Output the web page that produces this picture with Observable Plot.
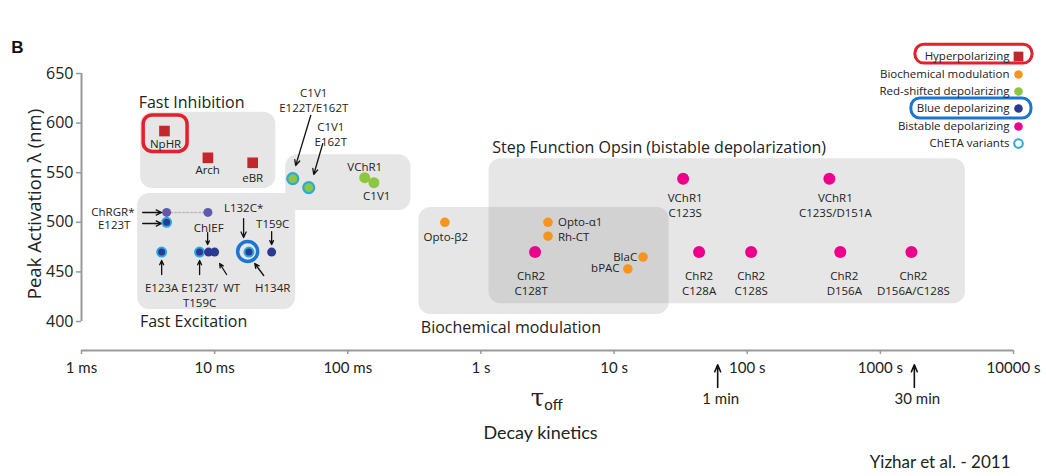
<!DOCTYPE html>
<html>
<head>
<meta charset="utf-8">
<script src="https://cdn.jsdelivr.net/npm/d3@7"></script>
<script src="https://cdn.jsdelivr.net/npm/@observablehq/plot@0.6"></script>
<style>
  html, body { margin: 0; padding: 0; background: #fff; }
  #chart svg { display: block; }
</style>
</head>
<body>
<div id="chart"></div>
<script>
// ---------- DATA ----------
const opsinNames = ["NpHR","Arch","eBR",
  "C1V1 E122T/E162T","C1V1 E162T","VChR1","C1V1",
  "ChRGR*","ChRGR* (2)","E123T","E123A","E123T/T159C","ChIEF","WT","L132C*/H134R","T159C",
  "Opto-β2","Opto-α1","Rh-CT","BlaC","bPAC",
  "ChR2 C128T","VChR1 C123S","VChR1 C123S/D151A","ChR2 C128A","ChR2 C128S","ChR2 D156A","ChR2 D156A/C128S"];
const tauOff = [0.0042, 0.0089, 0.0193,
  0.0386, 0.0509, 0.134, 0.157,
  0.00436, 0.0089, 0.00436, 0.0040, 0.0077, 0.0090, 0.0100, 0.0181, 0.0268,
  0.536, 3.19, 3.19, 16.5, 12.7,
  2.55, 33, 414, 43.5, 107, 500, 1710];
const peakNm = [592, 565, 560,
  544, 535, 545, 540,
  510, 510, 500, 470, 470, 470, 470, 470, 470,
  500, 500, 486, 465, 453,
  470, 544, 544, 470, 470, 470, 470];
const groups = ["hyper","hyper","hyper",
  "red","red","red","red",
  "chrgr","chrgr","blue","blue","blue","blue","blue","blue","blue",
  "bio","bio","bio","bio","bio",
  "bistable","bistable","bistable","bistable","bistable","bistable","bistable"];
const chetaRing = [0,0,0, 1,1,0,0, 0,0,1,1,1,0,0,1,0, 0,0,0,0,0, 0,0,0,0,0,0,0];

const legendLabels = ["Hyperpolarizing","Biochemical modulation","Red-shifted depolarizing","Blue depolarizing","Bistable depolarizing","ChETA variants"];
const yTicks = [400, 450, 500, 550, 600, 650];
const xTicks = [0.001, 0.01, 0.1, 1, 10, 100, 1000, 10000];
const xTickLabels = ["1 ms","10 ms","100 ms","1 s","10 s","100 s","1000 s","10000 s"];

// shaded regions [x1, x2, y1, y2] in data units
const regionInhibition = [0.00278, 0.0288, 534, 611];
const regionExcitation = [0.00264, 0.0406, 412, 529];
const regionRedShifted = [0.0342, 0.298, 512, 568];
const regionBiochem = [0.342, 25.9, 407, 515];
const regionSFO = [1.15, 4355, 418, 564];

// labels: text, x, y
const centerLabels = [
  ["NpHR", 0.00428, 579.4], ["Arch", 0.00886, 553.2], ["eBR", 0.0193, 545.2],
  ["C1V1\nE122T/E162T", 0.0555, 623.3], ["C1V1\nE162T", 0.0745, 589],
  ["VChR1", 0.134, 556.2], ["C1V1", 0.165, 527],
  ["L132C*", 0.0165, 514.9], ["ChIEF", 0.00902, 494.8], ["T159C", 0.0273, 498.8],
  ["E123A", 0.0040, 434.3], ["E123T/\nT159C", 0.00771, 426.7], ["WT", 0.01343, 434.3], ["H134R", 0.0273, 434.3],
  ["Opto-β2", 0.545, 485.7],
  ["ChR2\nC128T", 2.38, 438.8], ["VChR1\nC123S", 34.2, 517.9], ["VChR1\nC123S/D151A", 459, 517.9],
  ["ChR2\nC128A", 43.5, 438.8], ["ChR2\nC128S", 107, 438.8], ["ChR2\nD156A", 536, 438.8], ["ChR2\nD156A/C128S", 1770, 438.8]
];
const leftLabels = [["Opto-α1", 3.79, 499.8], ["Rh-CT", 3.79, 484.7]];
const rightLabels = [["ChRGR*", 0.0025, 509.9], ["E123T", 0.00233, 496.8], ["BlaC", 14.9, 464.5], ["bPAC", 11.0, 453.4]];
const groupTitles = [
  ["Fast Inhibition", 0.00671, 620.8], ["Fast Excitation", 0.00695, 400],
  ["Step Function Opsin (bistable depolarization)", 21.8, 575.4],
  ["Biochemical modulation", 1.68, 394]
];
// arrows x1, y1, x2, y2
const arrows = [
  [0.00288, 509.9, 0.0040, 509.9], [0.00288, 498.8, 0.0040, 498.8],
  [0.0527, 607.7, 0.0406, 557.2], [0.0649, 579.4, 0.0555, 548.2],
  [0.0165, 503.8, 0.0165, 484.7], [0.0268, 490.7, 0.0268, 477.6], [0.00886, 489.7, 0.00886, 477.6],
  [0.0040, 447.4, 0.0040, 461.5], [0.00771, 447.4, 0.00771, 461.5],
  [0.0123, 447.4, 0.0109, 458.5], [0.02336, 446.4, 0.0200, 458.5]
];
const timeMarks = [["1 min", 60], ["30 min", 1800]];
const yTitle = "Peak Activation λ (nm)";
const panelLabel = "B";
const xTitle = "Decay kinetics";
const source = "Yizhar et al. - 2011";

// ---------- BUILD ----------
const opsins = opsinNames.map((name, i) => ({name, tau: tauOff[i], nm: peakNm[i], group: groups[i], cheta: !!chetaRing[i]}));
const colors = {hyper: "#c1272d", red: "#8dc63f", blue: "#2b3990", chrgr: "#5f5aab", bio: "#f7941d", bistable: "#ec008c"};
const legendColors = ["#c1272d", "#f7941d", "#8dc63f", "#2b3990", "#ec008c", "none"];
const cyan = "#27aae1";
const FONT = "'Open Sans', 'Noto Sans', sans-serif";
const FONT2 = "Lato, sans-serif";
const yBottom = 370.8;
const box = {x1: d => d[0], x2: d => d[1], y1: d => d[2], y2: d => d[3]};
const mid = {textAnchor: "middle", lineAnchor: "middle"};

const byGroup = (g) => opsins.filter(d => d.group === g);
const legendDy = [-17, 1, 18, 35, 53, 70];
const legendMarks = legendLabels.flatMap((t, i) => [
  Plot.text([t], {frameAnchor: "top-right", dx: -4, dy: legendDy[i], text: d => d, fontSize: 11.5, fill: "#222", textAnchor: "end", lineAnchor: "middle"}),
  Plot.dot([t], {frameAnchor: "top-right", dx: 5, dy: legendDy[i],
    symbol: i === 0 ? "square" : "circle", r: i === 0 ? 5.5 : 4.3,
    fill: legendColors[i], stroke: i === 5 ? cyan : "none", strokeWidth: 2})
]);

const chart = Plot.plot({
  width: 1046, height: 476,
  marginLeft: 81, marginRight: 33, marginTop: 73, marginBottom: 126,
  x: {type: "log", domain: [0.001, 10000]},
  y: {domain: [yBottom, 650]},
  style: {fontFamily: FONT, background: "#fff", overflow: "visible"},
  marks: [
    // regions
    Plot.rect([regionInhibition, regionExcitation, regionRedShifted], {...box, fill: "#e6e6e6", rx: 12}),
    Plot.rect([regionBiochem, regionSFO], {...box, fill: "#888", fillOpacity: 0.21, rx: 12}),
    // axes
    Plot.ruleX([0.001], {y1: 400, y2: 650, stroke: "#999", strokeWidth: 2}),
    Plot.ruleY([yBottom], {stroke: "#999", strokeWidth: 2}),
    Plot.axisY({ticks: yTicks, tickSize: 5, tickPadding: 3, stroke: "#999", strokeWidth: 1.5, fill: "#222", fontSize: 16, fontFamily: FONT, label: null}),
    Plot.axisX({ticks: xTicks, tickFormat: (d) => xTickLabels[xTicks.indexOf(d)], tickSize: 4, tickPadding: 8, stroke: "#999", strokeWidth: 1.5, fill: "#222", fontSize: 15, fontFamily: FONT2, label: null}),
    Plot.text([yTitle], {frameAnchor: "left", ...mid, dx: -46, dy: -8, rotate: -90, text: d => d, fontSize: 18.5, fill: "#222"}),
    Plot.text([panelLabel], {frameAnchor: "top-left", ...mid, dx: -64, dy: -26, text: d => d, fontSize: 17, fontWeight: "bold", fill: "#111", fontFamily: "'Liberation Sans', Arial, sans-serif"}),
    Plot.text(["τ"], {frameAnchor: "bottom", ...mid, dx: -10, dy: 48, text: d => d, fontSize: 24, fill: "#222", fontFamily: "'DejaVu Serif', serif"}),
    Plot.text(["off"], {frameAnchor: "bottom", ...mid, dx: 6, dy: 55, text: d => d, fontSize: 15, fill: "#222", fontFamily: FONT2}),
    Plot.text([xTitle], {frameAnchor: "bottom", ...mid, dx: -7, dy: 83, text: d => d, fontSize: 18, fill: "#222", fontFamily: FONT2}),
    Plot.text([source], {frameAnchor: "bottom-right", textAnchor: "end", lineAnchor: "middle", dx: -3, dy: 112, text: d => d, fontSize: 17, fill: "#222", fontFamily: FONT2}),
    // connecting dotted line between ChRGR dots
    Plot.line(byGroup("chrgr"), {x: "tau", y: "nm", stroke: "#bbb", strokeWidth: 1.5, strokeDasharray: "2,2"}),
    // arrows
    Plot.arrow(arrows, {x1: d => d[0], y1: d => d[1], x2: d => d[2], y2: d => d[3], stroke: "#111", strokeWidth: 1.3, headLength: 7, headAngle: 50}),
    Plot.arrow(timeMarks, {x1: d => d[1], x2: d => d[1], y1: 333.5, y2: 356.5, stroke: "#111", strokeWidth: 1.6, headLength: 9, headAngle: 45}),
    Plot.text(timeMarks, {x: d => d[1], y: 321.4, text: d => d[0], fontSize: 15, fontFamily: FONT2, fill: "#222", dx: 3}),
    // points
    Plot.dot(byGroup("hyper"), {x: "tau", y: "nm", symbol: "square", r: 6, fill: colors.hyper}),
    Plot.dot(byGroup("red"), {x: "tau", y: "nm", r: 5.5, fill: colors.red, stroke: d => d.cheta ? cyan : "none", strokeWidth: 2.2}),
    Plot.dot(byGroup("chrgr"), {x: "tau", y: "nm", r: 4.5, fill: colors.chrgr}),
    Plot.dot(byGroup("blue"), {x: "tau", y: "nm", r: 4.5, fill: colors.blue, stroke: d => d.cheta ? cyan : "none", strokeWidth: 2}),
    Plot.dot(byGroup("bio"), {x: "tau", y: "nm", r: 4.8, fill: colors.bio}),
    Plot.dot(byGroup("bistable"), {x: "tau", y: "nm", r: 6, fill: colors.bistable}),
    // hand-drawn highlights
    Plot.rect([[0.00293, 0.00626, 571, 607.7]], {...box, fill: "none", stroke: "#e3202b", strokeWidth: 3.5, rx: 9}),
    Plot.dot([[0.0177, 470.6]], {x: d => d[0], y: d => d[1], r: 10, fill: "none", stroke: "#1c75d0", strokeWidth: 3.5}),
    Plot.rect([[1832, 13900, 660, 679]], {...box, fill: "none", stroke: "#e3202b", strokeWidth: 3, rx: 9}),
    Plot.rect([[1710, 13650, 604.6, 624.8]], {...box, fill: "none", stroke: "#1c75d0", strokeWidth: 3, rx: 9}),
    // labels
    Plot.text(centerLabels, {x: d => d[1], y: d => d[2], text: d => d[0], fontSize: 11.5, fill: "#222", lineHeight: 1.3}),
    Plot.text(leftLabels, {x: d => d[1], y: d => d[2], text: d => d[0], fontSize: 11.5, fill: "#222", textAnchor: "start"}),
    Plot.text(rightLabels, {x: d => d[1], y: d => d[2], text: d => d[0], fontSize: 11.5, fill: "#222", textAnchor: "end"}),
    Plot.text(groupTitles, {x: d => d[1], y: d => d[2], text: d => d[0], fontSize: 16, fill: "#222"}),
    ...legendMarks
  ]
});
document.getElementById("chart").appendChild(chart);
</script>
</body>
</html>
